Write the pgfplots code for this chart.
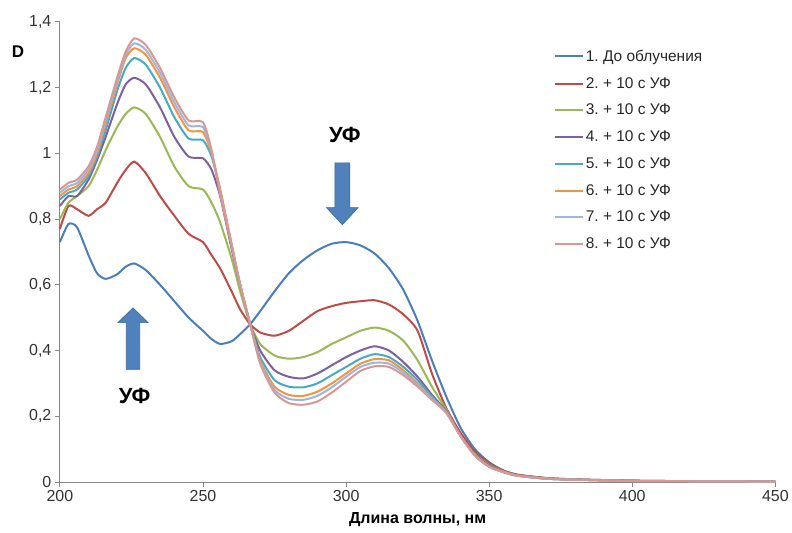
\documentclass[border=0pt]{standalone}
\usepackage{fontspec}
\setmainfont{Liberation Sans}
\usepackage{pgfplots}
\usepackage{pgfplotstable}
\pgfplotsset{compat=1.18}
\frenchspacing

\definecolor{c1}{HTML}{4A7EBB}
\definecolor{c2}{HTML}{BE4B48}
\definecolor{c3}{HTML}{98B954}
\definecolor{c4}{HTML}{7D60A0}
\definecolor{c5}{HTML}{46AAC5}
\definecolor{c6}{HTML}{F69240}
\definecolor{c7}{HTML}{9DB6DC}
\definecolor{c8}{HTML}{D99694}
\definecolor{arrowfill}{HTML}{4F81BD}
\definecolor{arrowedge}{HTML}{3A6496}
\definecolor{axisgray}{HTML}{868686}

% absorbance spectra
\pgfplotstableread{
x     s1    s2    s3    s4    s5    s6    s7    s8
200   0.73  0.77  0.80  0.84  0.86  0.87  0.88  0.89
203   0.785 0.84  0.85  0.87  0.88  0.89  0.90  0.91
206   0.775 0.83  0.87  0.87  0.89  0.90  0.91  0.92
210   0.69  0.81  0.90  0.92  0.93  0.94  0.95  0.96
213   0.635 0.83  0.95  0.98  0.99  1.00  1.01  1.02
216   0.618 0.85  1.01  1.05  1.07  1.09  1.10  1.11
220   0.632 0.91  1.08  1.15  1.19  1.21  1.22  1.23
223   0.655 0.95  1.12  1.21  1.26  1.29  1.30  1.31
226   0.665 0.975 1.14  1.23  1.29  1.32  1.335 1.35
230   0.645 0.94  1.12  1.21  1.27  1.30  1.315 1.33
235   0.60  0.87  1.05  1.14  1.20  1.23  1.245 1.26
240   0.55  0.81  0.96  1.05  1.11  1.14  1.155 1.17
245   0.50  0.755 0.90  0.99  1.045 1.07  1.085 1.10
250   0.46  0.73  0.89  0.985 1.04  1.065 1.08  1.095
253   0.435 0.69  0.85  0.95  0.99  1.00  1.005 1.01
256   0.42  0.65  0.79  0.87  0.89  0.89  0.88  0.875
260   0.428 0.58  0.68  0.71  0.72  0.725 0.72  0.72
263   0.45  0.525 0.58  0.60  0.60  0.60  0.60  0.60
266.5 0.48  0.48  0.48  0.48  0.48  0.48  0.48  0.48
270   0.52  0.455 0.42  0.40  0.38  0.37  0.365 0.36
275   0.58  0.445 0.385 0.34  0.31  0.29  0.28  0.272
280   0.635 0.46  0.375 0.32  0.29  0.265 0.253 0.24
285   0.675 0.49  0.38  0.315 0.288 0.262 0.25  0.235
290   0.705 0.52  0.395 0.33  0.30  0.275 0.262 0.245
295   0.725 0.535 0.42  0.355 0.325 0.30  0.288 0.272
300   0.73  0.545 0.44  0.38  0.35  0.33  0.32  0.305
305   0.72  0.55  0.46  0.40  0.375 0.36  0.35  0.338
310   0.695 0.553 0.47  0.413 0.389 0.374 0.363 0.352
315   0.65  0.54  0.46  0.40  0.38  0.37  0.36  0.35
320   0.585 0.51  0.43  0.365 0.35  0.34  0.333 0.325
325   0.49  0.46  0.37  0.32  0.31  0.30  0.295 0.29
330   0.37  0.33  0.29  0.265 0.26  0.255 0.252 0.25
335   0.26  0.225 0.22  0.215 0.213 0.212 0.211 0.21
340   0.165 0.15  0.14  0.14  0.14  0.14  0.14  0.14
345   0.10  0.093 0.085 0.083 0.082 0.081 0.08  0.08
350   0.06  0.057 0.052 0.05  0.048 0.047 0.046 0.046
355   0.035 0.034 0.032 0.03  0.03  0.03  0.03  0.03
360   0.022 0.022 0.02  0.019 0.019 0.019 0.019 0.019
370   0.012 0.012 0.011 0.01  0.01  0.01  0.01  0.01
380   0.008 0.008 0.007 0.007 0.007 0.007 0.007 0.007
400   0.004 0.004 0.004 0.003 0.003 0.003 0.003 0.003
425   0.002 0.002 0.002 0.002 0.002 0.002 0.002 0.002
450   0.001 0.001 0.001 0.001 0.001 0.001 0.001 0.001
}\spectra

\begin{document}
\begin{tikzpicture}
\begin{axis}[
  scale only axis,
  width=717pt, height=461pt,
  xmin=200, xmax=450, ymin=0, ymax=1.4,
  axis x line=bottom, axis y line=left,
  axis line style={-, draw=axisgray, line width=0.9pt},
  xtick={200,250,...,450},
  ytick={0,0.2,0.4,0.6,0.8,1,1.2,1.4},
  tick align=outside, major tick length=5pt,
  tick style={draw=axisgray, line width=0.9pt},
  ticklabel style={font=\fontsize{16}{19}\selectfont, text=black!80},
  /pgf/number format/assume math mode=true,
  yticklabel style={/pgf/number format/.cd, use comma, fixed, precision=1},
  xticklabel style={/pgf/number format/.cd, 1000 sep={}},
  xlabel={\bfseries Длина волны, нм},
  xlabel style={font=\fontsize{16}{19}\selectfont,
    at={(axis description cs:0.5,-0.0824)}, anchor=center},
  clip=false,
  legend cell align=left,
  legend style={at={(rel axis cs:0.686,0.948)}, anchor=north west,
    draw=none, fill=none, font=\fontsize{15.5}{18}\selectfont,
    row sep=10.5pt, text=black!85},
  legend image code/.code={\draw[#1] (0pt,0pt) -- (28pt,0pt);},
  every axis plot/.append style={line width=2pt, smooth, tension=0.4, mark=none},
]
\addplot[c1] table[x=x, y=s1] {\spectra};
\addlegendentry{1. До облучения}
\addplot[c2] table[x=x, y=s2] {\spectra};
\addlegendentry{2. + 10 с УФ}
\addplot[c3] table[x=x, y=s3] {\spectra};
\addlegendentry{3. + 10 с УФ}
\addplot[c4] table[x=x, y=s4] {\spectra};
\addlegendentry{4. + 10 с УФ}
\addplot[c5] table[x=x, y=s5] {\spectra};
\addlegendentry{5. + 10 с УФ}
\addplot[c6] table[x=x, y=s6] {\spectra};
\addlegendentry{6. + 10 с УФ}
\addplot[c7] table[x=x, y=s7] {\spectra};
\addlegendentry{7. + 10 с УФ}
\addplot[c8] table[x=x, y=s8] {\spectra};
\addlegendentry{8. + 10 с УФ}

% block arrows
\filldraw[fill=arrowfill, draw=arrowedge, line width=0.6pt]
  (axis cs:296.07,0.971) -- (axis cs:301.33,0.971) -- (axis cs:301.33,0.835)
  -- (axis cs:304.25,0.835) -- (axis cs:298.7,0.783) -- (axis cs:293.15,0.835)
  -- (axis cs:296.07,0.835) -- cycle;
\filldraw[fill=arrowfill, draw=arrowedge, line width=0.6pt]
  (axis cs:223.2,0.343) -- (axis cs:227.9,0.343) -- (axis cs:227.9,0.485)
  -- (axis cs:230.8,0.485) -- (axis cs:225.55,0.530) -- (axis cs:220.3,0.485)
  -- (axis cs:223.2,0.485) -- cycle;
\node[font=\fontsize{22}{26}\selectfont\bfseries] at (axis cs:299.6,1.057) {УФ};
\node[font=\fontsize{22}{26}\selectfont\bfseries] at (axis cs:226.1,0.262) {УФ};

% y axis title
\node[font=\fontsize{17}{20}\selectfont\bfseries] at (rel axis cs:-0.0586,0.935) {D};

% page frame
\path (rel axis cs:-0.0837,-0.1106) rectangle (rel axis cs:1.0209,1.0477);
\end{axis}
\end{tikzpicture}
\end{document}
